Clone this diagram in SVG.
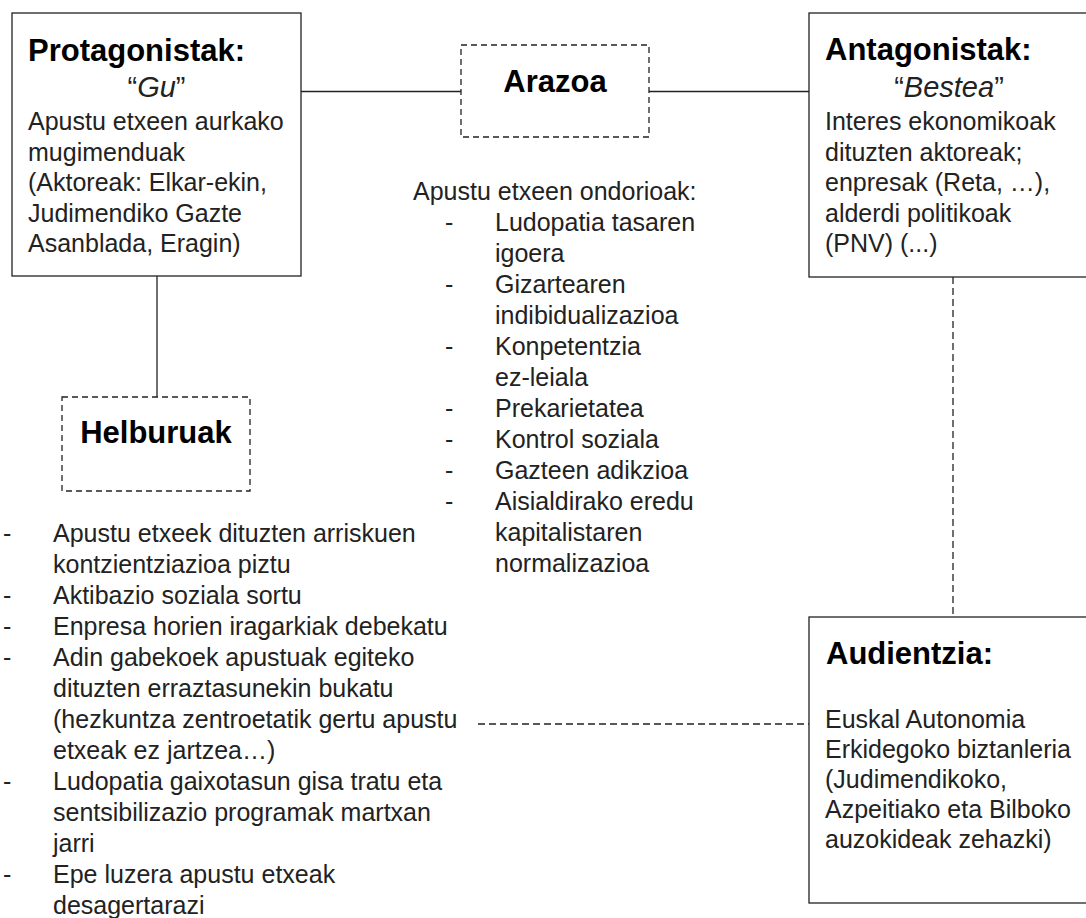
<svg xmlns="http://www.w3.org/2000/svg" width="1086" height="918" viewBox="0 0 1086 918">
<style>
.box{fill:#fff;stroke:#222;stroke-width:1.3}
.dbox{fill:#fff;stroke:#222;stroke-width:1.3;stroke-dasharray:6 4}
.conn{fill:none;stroke:#222;stroke-width:1.3}
.dconn{fill:none;stroke:#222;stroke-width:1.3;stroke-dasharray:7 4}
.title{font-family:"Liberation Sans",Arial,sans-serif;font-weight:bold;font-size:31px;fill:#000}
.sub{font-family:"Liberation Sans",Arial,sans-serif;font-size:29px;fill:#222}
.body{font-family:"Liberation Sans",Arial,sans-serif;font-size:25px;fill:#222}
</style>
<rect width="1086" height="918" fill="#fff"/>
<g id="connectors">
<line class="conn" x1="301" y1="91.5" x2="461" y2="91.5"/>
<line class="conn" x1="649" y1="91.5" x2="809" y2="91.5"/>
<line class="conn" x1="157" y1="276" x2="157" y2="397"/>
<line class="dconn" x1="953" y1="277" x2="953" y2="617"/>
<line class="dconn" x1="478" y1="724" x2="809" y2="724"/>
</g>
<g id="protagonistak">
<rect class="box" x="12" y="13" width="289" height="263"/>
<text class="title" x="28" y="61">Protagonistak:</text>
<text class="sub" x="156.5" y="97" text-anchor="middle">“<tspan font-style="italic">Gu</tspan>”</text>
<text class="body" x="28" y="130">Apustu etxeen aurkako</text>
<text class="body" x="28" y="161">mugimenduak</text>
<text class="body" x="28" y="191">(Aktoreak: Elkar-ekin,</text>
<text class="body" x="28" y="222">Judimendiko Gazte</text>
<text class="body" x="28" y="252">Asanblada, Eragin)</text>
</g>
<g id="arazoa">
<rect class="dbox" x="461" y="45" width="188" height="92"/>
<text class="title" x="555" y="92" text-anchor="middle">Arazoa</text>
<text class="body" x="413" y="200">Apustu etxeen ondorioak:</text>
<g class="body">
<text x="445" y="231">-</text><text x="495" y="231">Ludopatia tasaren</text>
<text x="495" y="262">igoera</text>
<text x="445" y="293">-</text><text x="495" y="293">Gizartearen</text>
<text x="495" y="324">indibidualizazioa</text>
<text x="445" y="355">-</text><text x="495" y="355">Konpetentzia</text>
<text x="495" y="386">ez-leiala</text>
<text x="445" y="417">-</text><text x="495" y="417">Prekarietatea</text>
<text x="445" y="448">-</text><text x="495" y="448">Kontrol soziala</text>
<text x="445" y="479">-</text><text x="495" y="479">Gazteen adikzioa</text>
<text x="445" y="510">-</text><text x="495" y="510">Aisialdirako eredu</text>
<text x="495" y="541">kapitalistaren</text>
<text x="495" y="572">normalizazioa</text>
</g>
</g>
<g id="antagonistak">
<rect class="box" x="809" y="13" width="279" height="264"/>
<text class="title" x="825" y="60">Antagonistak:</text>
<text class="sub" x="949" y="97" text-anchor="middle">“<tspan font-style="italic">Bestea</tspan>”</text>
<text class="body" x="825" y="130">Interes ekonomikoak</text>
<text class="body" x="825" y="161">dituzten aktoreak;</text>
<text class="body" x="825" y="191">enpresak (Reta, …),</text>
<text class="body" x="825" y="222">alderdi politikoak</text>
<text class="body" x="825" y="252">(PNV) (...)</text>
</g>
<g id="helburuak">
<rect class="dbox" x="62" y="397" width="188" height="94"/>
<text class="title" x="156" y="443" text-anchor="middle">Helburuak</text>
<g class="body">
<text x="3" y="542">-</text><text x="53" y="542">Apustu etxeek dituzten arriskuen</text>
<text x="53" y="573">kontzientziazioa piztu</text>
<text x="3" y="604">-</text><text x="53" y="604">Aktibazio soziala sortu</text>
<text x="3" y="635">-</text><text x="53" y="635">Enpresa horien iragarkiak debekatu</text>
<text x="3" y="666">-</text><text x="53" y="666">Adin gabekoek apustuak egiteko</text>
<text x="53" y="697">dituzten erraztasunekin bukatu</text>
<text x="53" y="728">(hezkuntza zentroetatik gertu apustu</text>
<text x="53" y="759">etxeak ez jartzea…)</text>
<text x="3" y="790">-</text><text x="53" y="790">Ludopatia gaixotasun gisa tratu eta</text>
<text x="53" y="821">sentsibilizazio programak martxan</text>
<text x="53" y="852">jarri</text>
<text x="3" y="883">-</text><text x="53" y="883">Epe luzera apustu etxeak</text>
<text x="53" y="914">desagertarazi</text>
</g>
</g>
<g id="audientzia">
<rect class="box" x="809" y="617" width="279" height="286"/>
<text class="title" x="826" y="664">Audientzia:</text>
<text class="body" x="825" y="728">Euskal Autonomia</text>
<text class="body" x="825" y="758">Erkidegoko biztanleria</text>
<text class="body" x="825" y="788">(Judimendikoko,</text>
<text class="body" x="825" y="818">Azpeitiako eta Bilboko</text>
<text class="body" x="825" y="848">auzokideak zehazki)</text>
</g>
</svg>
